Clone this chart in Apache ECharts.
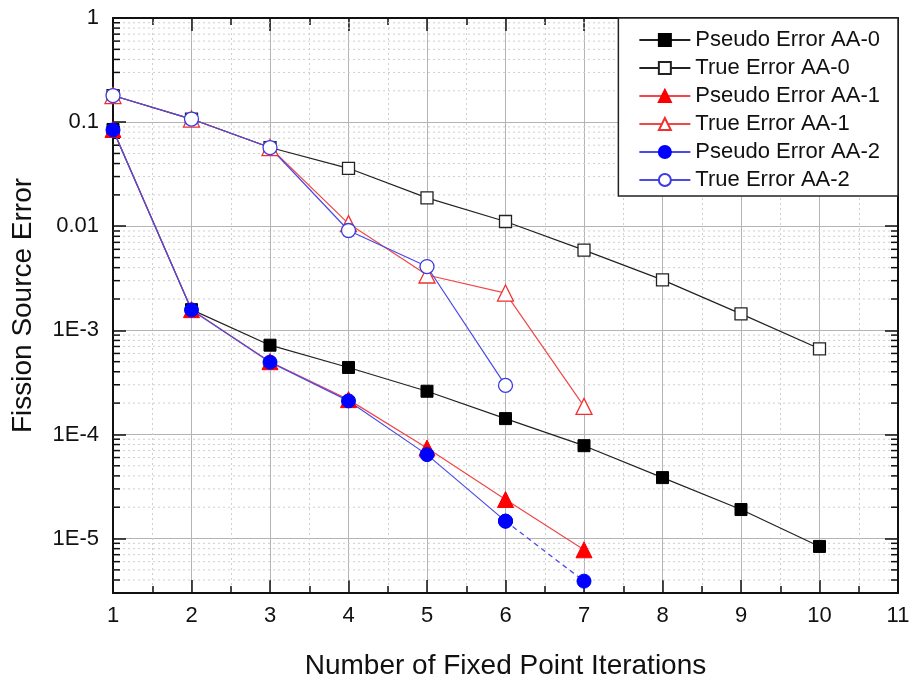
<!DOCTYPE html>
<html>
<head>
<meta charset="utf-8">
<title>Fission Source Error</title>
<script src="https://cdn.jsdelivr.net/npm/echarts@6/dist/echarts.min.js"></script>
<style>
  html, body { margin: 0; padding: 0; background: #fff; }
  #chart { width: 912px; height: 680px; }
</style>
</head>
<body>
<div id="chart"></div>
<script>
// iterations (x)
var iterations = [1, 2, 3, 4, 5, 6, 7, 8, 9, 10];

// values
var pseudoAA0 = [0.085, 1.58e-3, 7.2e-4, 4.4e-4, 2.6e-4, 1.42e-4, 7.8e-5, 3.85e-5, 1.9e-5, 8.4e-6];
var trueAA0   = [0.18, 0.107, 0.057, 0.036, 0.0187, 0.0111, 5.9e-3, 3.05e-3, 1.44e-3, 6.65e-4];
var pseudoAA1 = [0.085, 1.58e-3, 5.0e-4, 2.16e-4, 7.4e-5, 2.37e-5, 7.8e-6];
var trueAA1   = [0.18, 0.107, 0.057, 0.0106, 3.4e-3, 2.28e-3, 1.86e-4];
var pseudoAA2 = [0.084, 1.57e-3, 4.95e-4, 2.1e-4, 6.4e-5, 1.47e-5, 3.9e-6];
var trueAA2   = [0.18, 0.107, 0.057, 9.1e-3, 4.1e-3, 2.96e-4];

// axis
var xMin = 1, xMax = 11;
var yMin = 3e-6, yMax = 1;
var yTickLabels = { '0': '1', '-1': '0.1', '-2': '0.01', '-3': '1E-3', '-4': '1E-4', '-5': '1E-5' };
var minorFactors = [2, 3, 4, 5, 6, 7, 8, 9];
var decades = [1e-6, 1e-5, 1e-4, 1e-3, 1e-2, 1e-1];

var names = ['Pseudo Error AA-0', 'True Error AA-0', 'Pseudo Error AA-1',
             'True Error AA-1', 'Pseudo Error AA-2', 'True Error AA-2'];

function pairs(vals) {
  return vals.map(function (v, i) { return [iterations[i], v]; });
}

// minor log ticks (2..9 of each decade)
var minorValues = [];
decades.forEach(function (d) {
  minorFactors.forEach(function (f) {
    var v = d * f;
    if (v > yMin * 1.001 && v < yMax) minorValues.push([xMin, v]);
  });
});

var chart = echarts.init(document.getElementById('chart'));

var font = 'Liberation Sans, Arial, sans-serif';
var gridMajor = '#b4b4b4';
var gridMinor = '#cfcfcf';

function lineSeries(name, data, color, lineColor, symbol, size, filled) {
  return {
    name: name,
    type: 'line',
    data: data,
    symbol: symbol,
    symbolSize: size,
    showSymbol: true,
    lineStyle: { color: lineColor, width: 1.2 },
    itemStyle: filled
      ? { color: color, borderColor: color, borderWidth: 1 }
      : { color: '#fff', borderColor: color, borderWidth: 1.3 },
    emphasis: { disabled: true },
    animation: false
  };
}

var aa2 = pairs(pseudoAA2);

var option = {
  backgroundColor: '#fff',
  animation: false,
  grid: { left: 113, right: 14, top: 18, bottom: 87, containLabel: false, outerBoundsMode: 'none' },
  legend: {
    data: names,
    orient: 'vertical',
    right: 14,
    top: 18,
    itemWidth: 51,
    itemHeight: 15,
    itemGap: 6,
    padding: [11, 18, 5, 20],
    backgroundColor: '#fff',
    borderColor: '#222',
    borderWidth: 1.5,
    borderRadius: 0,
    textStyle: { fontFamily: font, fontSize: 22, color: '#111' },
    z: 10
  },
  xAxis: [{
    type: 'value',
    min: xMin, max: xMax, interval: 1,
    name: 'Number of Fixed Point Iterations',
    nameLocation: 'middle',
    nameGap: 59,
    nameTextStyle: { fontFamily: font, fontSize: 28, color: '#111' },
    axisLine: { show: true, lineStyle: { color: '#111', width: 2 } },
    axisTick: { show: true, inside: true, length: 13, lineStyle: { color: '#111', width: 1.5 } },
    minorTick: { show: true, splitNumber: 2, length: 7, lineStyle: { color: '#111', width: 1.5 } },
    axisLabel: { fontFamily: font, fontSize: 22, color: '#111', margin: 12 },
    splitLine: { show: true, lineStyle: { color: gridMajor, width: 1 } },
    minorSplitLine: { show: true, lineStyle: { color: gridMinor, width: 1, type: [2, 3] } }
  }, {
    type: 'value',
    position: 'top',
    min: xMin, max: xMax, interval: 1,
    axisLine: { show: true, lineStyle: { color: '#111', width: 2 } },
    axisTick: { show: true, inside: true, length: 13, lineStyle: { color: '#111', width: 1.5 } },
    minorTick: { show: true, splitNumber: 2, length: 7, lineStyle: { color: '#111', width: 1.5 } },
    axisLabel: { show: false },
    splitLine: { show: false }
  }],
  yAxis: [{
    type: 'log',
    logBase: 10,
    min: yMin, max: yMax,
    name: 'Fission Source Error',
    nameLocation: 'middle',
    nameGap: 76,
    nameTextStyle: { fontFamily: font, fontSize: 28, color: '#111' },
    axisLine: { show: true, lineStyle: { color: '#111', width: 2 } },
    axisTick: { show: true, inside: true, length: 13, lineStyle: { color: '#111', width: 1.5 } },
    axisLabel: {
      fontFamily: font, fontSize: 22, color: '#111', margin: 14,
      formatter: function (v) {
        var e = Math.log10(v);
        var r = Math.round(e);
        if (Math.abs(e - r) > 1e-6) return '';
        return yTickLabels[String(r)] || '';
      }
    },
    splitLine: { show: true, lineStyle: { color: gridMajor, width: 1 } }
  }, {
    type: 'log',
    logBase: 10,
    position: 'right',
    min: yMin, max: yMax,
    axisLine: { show: true, lineStyle: { color: '#111', width: 2 } },
    axisTick: { show: true, inside: true, length: 13, lineStyle: { color: '#111', width: 1.5 } },
    axisLabel: { show: false },
    splitLine: { show: false }
  }],
  series: [
    {
      // minor grid lines and minor ticks of the log axis
      type: 'custom',
      silent: true,
      z: 1,
      xAxisIndex: 0,
      yAxisIndex: 0,
      data: minorValues,
      renderItem: function (params, api) {
        var v = api.value(1);
        var p0 = api.coord([xMin, v]);
        var p1 = api.coord([xMax, v]);
        return {
          type: 'group',
          children: [
            { type: 'line', shape: { x1: p0[0], y1: p0[1], x2: p1[0], y2: p1[1] },
              style: { stroke: gridMinor, lineWidth: 1, lineDash: [2, 3] } },
            { type: 'line', shape: { x1: p0[0], y1: p0[1], x2: p0[0] + 7, y2: p0[1] },
              style: { stroke: '#111', lineWidth: 1.5 } },
            { type: 'line', shape: { x1: p1[0] - 7, y1: p1[1], x2: p1[0], y2: p1[1] },
              style: { stroke: '#111', lineWidth: 1.5 } }
          ]
        };
      },
      animation: false
    },
    lineSeries(names[0], pairs(pseudoAA0), '#000', '#222', 'rect', 12, true),
    lineSeries(names[1], pairs(trueAA0), '#222', '#222', 'rect', 12, false),
    lineSeries(names[2], pairs(pseudoAA1), '#ff0000', '#f04848', 'triangle', 16, true),
    lineSeries(names[3], pairs(trueAA1), '#f03030', '#f04848', 'triangle', 16, false),
    lineSeries(names[4], aa2.slice(0, 6), '#0000ff', '#4a4ae6', 'circle', 14, true),
    lineSeries(names[5], pairs(trueAA2), '#3a3ae6', '#4a4ae6', 'circle', 14, false),
    {
      // last step of AA-2 pseudo error, dashed
      name: 'AA-2 dashed',
      type: 'line',
      data: aa2.slice(5),
      symbol: 'circle',
      symbolSize: 14,
      lineStyle: { color: '#4a4ae6', width: 1.3, type: [5, 4] },
      itemStyle: { color: '#0000ff', borderColor: '#0000ff' },
      emphasis: { disabled: true },
      animation: false
    }
  ]
};

chart.setOption(option);
</script>
</body>
</html>
